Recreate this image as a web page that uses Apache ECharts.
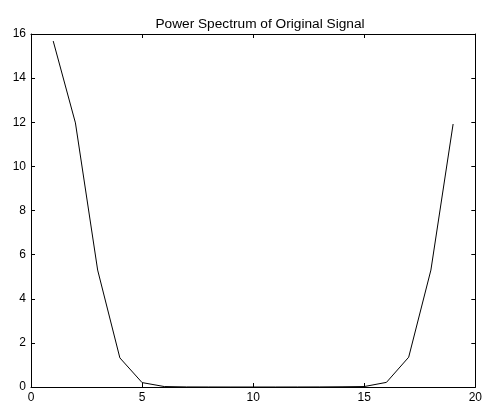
<!DOCTYPE html>
<html>
<head>
<meta charset="utf-8">
<script src="https://cdn.jsdelivr.net/npm/echarts@6/dist/echarts.min.js"></script>
<style>
  html, body { margin: 0; padding: 0; background: #fff; }
  #chart { width: 485px; height: 405px; }
</style>
</head>
<body>
<div id="chart"></div>
<script>
// Power spectrum samples, index 1..19
const freqIndex = [1, 2, 3, 4, 5, 6, 7, 8, 9, 10, 11, 12, 13, 14, 15, 16, 17, 18, 19];
const power = [15.68, 11.97, 5.3, 1.32, 0.2, 0.02, 0.003, 0.001, 0.0, 0.0, 0.0, 0.001, 0.003, 0.01, 0.02, 0.21, 1.35, 5.3, 11.92];
const xTicks = [0, 5, 10, 15, 20];
const yTicks = [0, 2, 4, 6, 8, 10, 12, 14, 16];
const titleText = 'Power Spectrum of Original Signal';

const font = 'Liberation Sans, Arial, Helvetica, sans-serif';
const chart = echarts.init(document.getElementById('chart'), null, { renderer: 'canvas' });

const axisCommon = {
  axisLine: { show: true, onZero: false, lineStyle: { color: '#000', width: 1 } },
  axisTick: { show: true, inside: true, length: 4, lineStyle: { color: '#000', width: 1 } },
  splitLine: { show: false }
};

chart.setOption({
  animation: false,
  backgroundColor: '#fff',
  title: {
    text: titleText,
    left: 255, top: 12, textAlign: 'center',
    textStyle: { fontFamily: font, fontSize: 13.7, fontWeight: 'normal', color: '#000' }
  },
  grid: { left: 31, top: 34, right: 7, bottom: 18, containLabel: false },
  xAxis: [
    Object.assign({}, axisCommon, {
      type: 'value', position: 'bottom',
      min: xTicks[0], max: xTicks[xTicks.length - 1], interval: 5,
      axisLabel: { show: true, margin: 5, fontFamily: font, fontSize: 12, color: '#000' }
    }),
    Object.assign({}, axisCommon, {
      type: 'value', position: 'top',
      min: xTicks[0], max: xTicks[xTicks.length - 1], interval: 5,
      axisLabel: { show: false }
    })
  ],
  yAxis: [
    Object.assign({}, axisCommon, {
      type: 'value', position: 'left',
      min: yTicks[0], max: yTicks[yTicks.length - 1], interval: 2,
      axisLabel: { show: true, margin: 5, fontFamily: font, fontSize: 12, color: '#000' }
    }),
    Object.assign({}, axisCommon, {
      type: 'value', position: 'right',
      min: yTicks[0], max: yTicks[yTicks.length - 1], interval: 2,
      axisLabel: { show: false }
    })
  ],
  series: [{
    type: 'line',
    xAxisIndex: 0, yAxisIndex: 0,
    data: freqIndex.map((x, i) => [x, power[i]]),
    showSymbol: false,
    lineStyle: { color: '#000', width: 1 },
    itemStyle: { color: '#000' }
  }]
});
</script>
</body>
</html>
